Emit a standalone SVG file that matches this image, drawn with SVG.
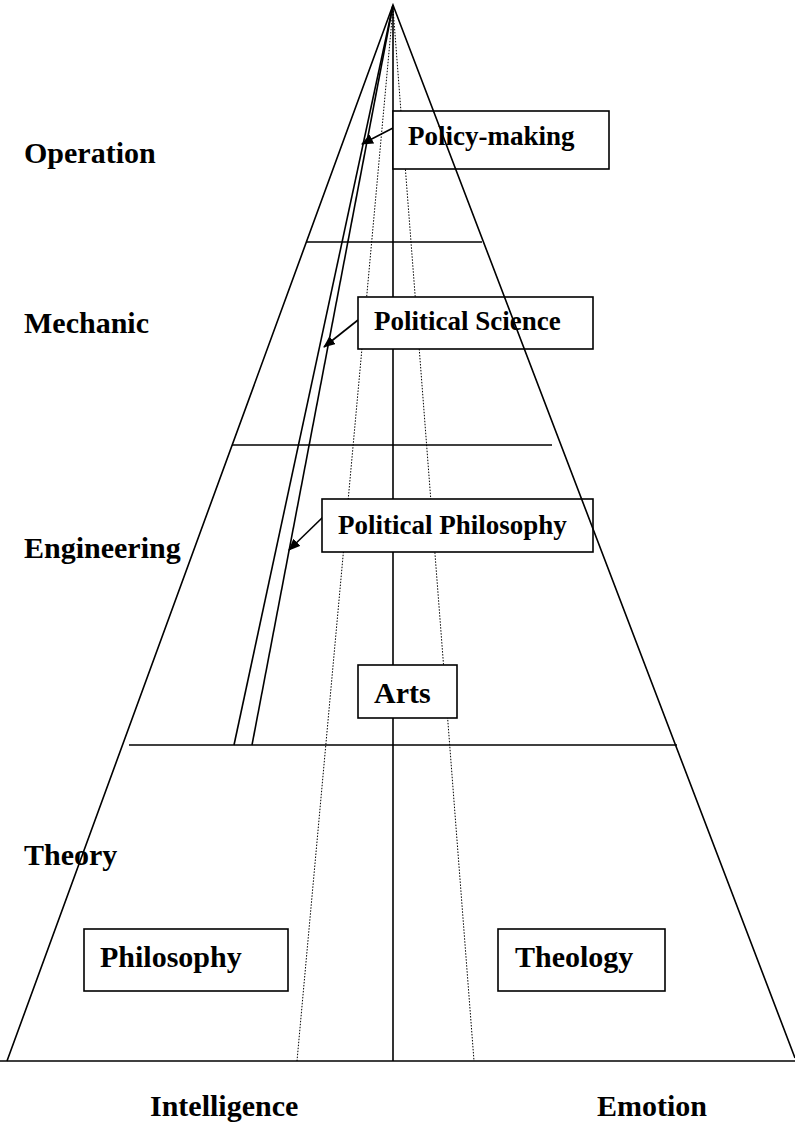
<svg xmlns="http://www.w3.org/2000/svg" width="795" height="1124" viewBox="0 0 795 1124">
  <style>
    .ln { stroke: #000; stroke-width: 1.6; fill: none; }
    .dot { stroke: #000; stroke-width: 1; stroke-dasharray: 1.5 1.5; fill: none; }
    .box { fill: #fff; stroke: #000; stroke-width: 1.6; }
    .t { font-family: "Liberation Serif", "Times New Roman", serif; font-weight: bold; fill: #000; }
    .lab { font-size: 30px; }
    .sm { font-size: 27px; }
    .arr { stroke: #000; stroke-width: 1.6; fill: none; marker-end: url(#head); }
  </style>
  <defs>
    <marker id="head" viewBox="0 0 12 10" refX="11" refY="5" markerWidth="12" markerHeight="10" markerUnits="userSpaceOnUse" orient="auto">
      <path d="M0,0 L12,5 L0,10 z" fill="#000"/>
    </marker>
  </defs>
  <rect width="795" height="1124" fill="#fff"/>

  <!-- axes, levels and the two double rays; boxes are drawn over these -->
  <g id="connectors">
    <line class="ln" x1="0" y1="1061" x2="795" y2="1061"/>
    <line class="ln" x1="393" y1="5" x2="393" y2="1061"/>
    <line class="dot" x1="393" y1="8" x2="297" y2="1061"/>
    <line class="dot" x1="393" y1="8" x2="474" y2="1061"/>
    <line class="ln" x1="306" y1="242" x2="482" y2="242"/>
    <line class="ln" x1="232" y1="445" x2="552" y2="445"/>
    <line class="ln" x1="129" y1="745" x2="677" y2="745"/>
    <line class="ln" x1="393" y1="5" x2="234" y2="745"/>
    <line class="ln" x1="393" y1="5" x2="252" y2="745"/>
    <line class="arr" x1="393" y1="128" x2="362" y2="144"/>
    <line class="arr" x1="358" y1="320" x2="324" y2="347"/>
    <line class="arr" x1="323" y1="517" x2="289" y2="550"/>
  </g>

  <!-- level labels -->
  <g id="levels">
    <text class="t lab" x="24" y="163">Operation</text>
    <text class="t lab" x="24" y="333">Mechanic</text>
    <text class="t lab" x="24" y="558">Engineering</text>
    <text class="t lab" x="24" y="865">Theory</text>
  </g>

  <g id="policy-making">
    <rect class="box" x="393" y="111" width="216" height="58"/>
    <text class="t sm" x="408" y="145">Policy-making</text>
  </g>
  <g id="political-science">
    <rect class="box" x="358" y="297" width="235" height="52"/>
    <text class="t sm" x="374" y="330">Political Science</text>
  </g>
  <g id="political-philosophy">
    <rect class="box" x="322" y="499" width="271" height="53"/>
    <text class="t sm" x="338" y="534">Political Philosophy</text>
  </g>
  <g id="arts">
    <rect class="box" x="358" y="665" width="99" height="53"/>
    <text class="t lab" x="374" y="703">Arts</text>
  </g>
  <g id="philosophy">
    <rect class="box" x="84" y="929" width="204" height="62"/>
    <text class="t lab" x="100" y="967">Philosophy</text>
  </g>
  <g id="theology">
    <rect class="box" x="498" y="929" width="167" height="62"/>
    <text class="t lab" x="515" y="967">Theology</text>
  </g>

  <!-- pyramid outline, drawn last so it crosses the boxes -->
  <g id="pyramid">
    <path class="ln" d="M7,1061 L393,5 L795,1058"/>
  </g>

  <g id="axes">
    <text class="t lab" x="150" y="1116">Intelligence</text>
    <text class="t lab" x="597" y="1116">Emotion</text>
  </g>
</svg>
